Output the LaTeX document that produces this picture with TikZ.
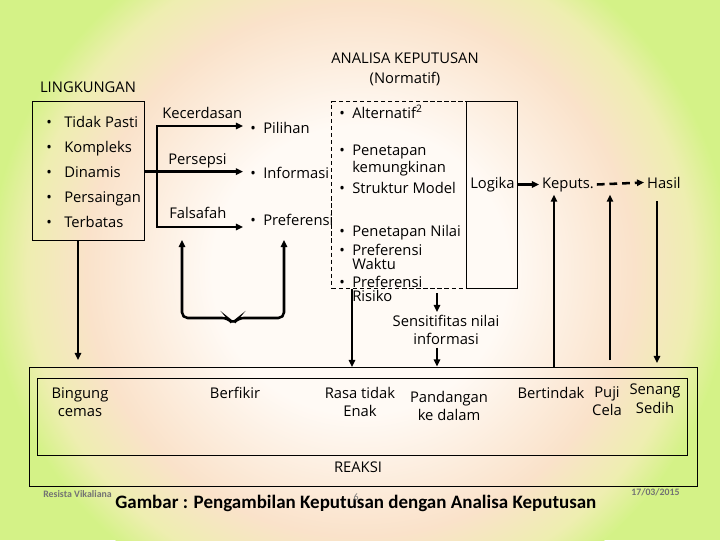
\documentclass[tikz,border=0pt]{standalone}
\usepackage{fontspec}
\setmainfont{Open Sans}
\newfontfamily\carlito{Carlito}
\usetikzlibrary{arrows.meta}

\definecolor{latarputih}{RGB}{255,250,245}
\definecolor{latarpeach}{RGB}{250,226,202}
\definecolor{latarkuning}{RGB}{238,238,176}
\definecolor{latarhijau}{RGB}{212,242,135}
\definecolor{abu}{RGB}{115,115,115}

\pgfdeclareradialshading{latar}{\pgfpoint{0bp}{0bp}}{color(0bp)=(latarputih); color(10bp)=(latarputih); color(18.5bp)=(latarpeach); color(22.5bp)=(latarkuning); color(25bp)=(latarhijau); color(50bp)=(latarhijau)}

\newcommand{\bulat}[1]{\makebox[#1][l]{\textbullet}}

\tikzset{
    teks/.style={inner sep=0pt, font=\fontsize{10.5}{9.8}\selectfont},
    butir/.style={teks, anchor=base west, align=left},
    reaksiteks/.style={teks, anchor=north, align=center, font=\fontsize{10.5}{13}\selectfont},
    kotak/.style={draw, line width=0.7pt, inner sep=0pt},
    tebal/.style={line width=1.8pt},
    panah/.style={tebal, -{Triangle[length=5pt,width=4.5pt]}},
    panahdua/.style={tebal, {Triangle[length=5pt,width=4.5pt]}-{Triangle[length=5pt,width=4.5pt]}},
}

\begin{document}
\begin{tikzpicture}[x=0.025cm, y=-0.025cm]
    \useasboundingbox (0,0) rectangle (720,540);
    \fill[latarhijau] (0,0) rectangle (720,540);
    \shade[shading=latar] (360,270) ellipse [x radius=9.25cm, y radius=9cm];

    % lingkungan
    \node[teks, anchor=base] (lingkungan) at (88,92) {LINGKUNGAN};
    \node[kotak, minimum width=2.775cm, minimum height=3.45cm] (lingbox) at (88.5,171) {};
    \foreach \isi [count=\i] in {Tidak Pasti, Kompleks, Dinamis, Persaingan, Terbatas}
        \node[butir] (ling\i) at (46,102+25*\i) {\bulat{0.45cm}\isi};

    \node[teks, anchor=base west] (kecerdasan) at (162,118) {Kecerdasan};
    \node[teks, anchor=base west] (persepsi) at (168,164) {Persepsi};
    \node[teks, anchor=base west] (falsafah) at (169,218) {Falsafah};

    \node[butir, inner xsep=5pt] (pilihan) at (243,133) {\bulat{0.325cm}Pilihan};
    \node[butir, inner xsep=5pt] (informasi) at (243,178) {\bulat{0.325cm}Informasi};
    \node[butir, inner xsep=5pt] (preferensi) at (243,225) {\bulat{0.325cm}Preferensi};

    \coordinate (cabangatas) at (157,126);
    \coordinate (cabangbawah) at (157,227);
    \draw[panahdua] (cabangatas -| pilihan.west) -- (cabangatas) -- (cabangbawah) -- (cabangbawah -| preferensi.west);
    \draw[panah] (ling3 -| lingbox.east) -- (ling3 -| informasi.west);

    \coordinate (kurungkiri) at (182,240);
    \coordinate (kurungkanan) at (284,240);
    \draw[panahdua, rounded corners=4pt] (kurungkiri) -- (182,318) -- (228,318) -- (233,324) -- (238,318) -- (284,318) -- (kurungkanan);

    % analisa keputusan
    \node[teks, anchor=base, align=center, font=\fontsize{10.5}{14}\selectfont] (analisa) at (405,83) {ANALISA KEPUTUSAN\\(Normatif)};
    \node[kotak, dashed, dash pattern=on 3pt off 2pt, minimum width=3.35cm, minimum height=4.65cm] (analisabox) at (399,195) {};
    \node[kotak, minimum width=1.275cm, minimum height=4.65cm] (logikabox) at (491.5,195) {};

    \node[butir] (alternatif) at (339,118) {\bulat{0.325cm}Alternatif\textsuperscript{2}};
    \node[butir] (kemungkinan) at (339,172) {\bulat{0.325cm}Penetapan\\\hspace*{0.325cm}kemungkinan};
    \node[butir] (struktur) at (339,193) {\bulat{0.325cm}Struktur Model};
    \node[butir] (nilai) at (339,236) {\bulat{0.325cm}Penetapan Nilai};
    \node[butir] (waktu) at (339,269) {\bulat{0.325cm}Preferensi\\\hspace*{0.325cm}Waktu};
    \node[butir] (risiko) at (339,301) {\bulat{0.325cm}Preferensi\\\hspace*{0.325cm}Risiko};

    \node[teks, anchor=base west] (logika) at (470,188) {Logika};
    \node[teks, anchor=base west, inner xsep=2pt, inner ysep=2pt] (keputs) at (539,188) {Keputs.};
    \node[teks, anchor=base west, inner xsep=2pt, inner ysep=2pt] (hasil) at (644,188) {Hasil};
    \draw[panah] (logikabox.east |- keputs) -- (keputs.west);
    \draw[panah, dash pattern=on 5.5pt off 3.5pt] (keputs.east) -- (hasil.west);

    \node[teks, anchor=north, align=center, inner ysep=2pt, font=\fontsize{10.5}{12.8}\selectfont] (sensitif) at (446,312) {Sensitifitas nilai\\informasi};

    % reaksi
    \node[kotak, minimum width=16.675cm, minimum height=2.975cm] (reaksibox) at (363.5,426.5) {};
    \node[kotak, minimum width=16.225cm, minimum height=1.925cm] (reaksidalam) at (362.5,416.5) {};
    \node[teks, anchor=base] (reaksi) at (358,472) {REAKSI};

    \node[reaksiteks] (bingung) at (80,387) {Bingung\\cemas};
    \node[reaksiteks] (berfikir) at (235,387) {Berfikir};
    \node[reaksiteks] (rasa) at (360,387) {Rasa tidak\\Enak};
    \node[reaksiteks] (pandangan) at (449,391) {Pandangan\\ke dalam};
    \node[reaksiteks] (bertindak) at (551,387) {Bertindak};
    \node[reaksiteks] (puji) at (607,386) {Puji\\Cela};
    \node[reaksiteks] (senang) at (655,384) {Senang\\Sedih};

    \coordinate (bingungatas) at (78,360);
    \coordinate (risikobawah) at (352,367);
    \coordinate (sensatas) at (437,293);
    \coordinate (naik1) at (554,367);
    \coordinate (naik2) at (610,360);
    \coordinate (turun) at (657,363);
    \draw[panah] (bingungatas |- lingbox.south) -- (bingungatas);
    \draw[panah] (risikobawah |- analisabox.south) -- (risikobawah);
    \draw[panah] (sensatas) -- (sensatas |- sensitif.north);
    \draw[panah] (sensatas |- sensitif.south) -- (sensatas |- reaksibox.north);
    \draw[panah] (naik1) -- (naik1 |- keputs.south);
    \draw[panah] (naik2) -- (naik2 |- keputs.south);
    \draw[panah, shorten <=7pt] (turun |- hasil.south) -- (turun);

    % kaki
    \node[anchor=base west, inner sep=0pt, text=abu, font=\carlito\bfseries\fontsize{7}{8}\selectfont] (penulis) at (43,497) {Resista Vikaliana};
    \node[anchor=base west, inner sep=0pt, font=\carlito\bfseries\fontsize{13.5}{15}\selectfont] (judul) at (115,508) {Gambar : Pengambilan Keputusan dengan Analisa Keputusan};
    \node[anchor=base, inner sep=0pt, text=abu, font=\carlito\fontsize{7}{8}\selectfont] (halaman) at (356,500) {6};
    \node[anchor=base west, inner sep=0pt, text=abu, font=\carlito\bfseries\fontsize{7}{8}\selectfont] (tanggal) at (631,495) {17/03/2015};
\end{tikzpicture}
\end{document}
